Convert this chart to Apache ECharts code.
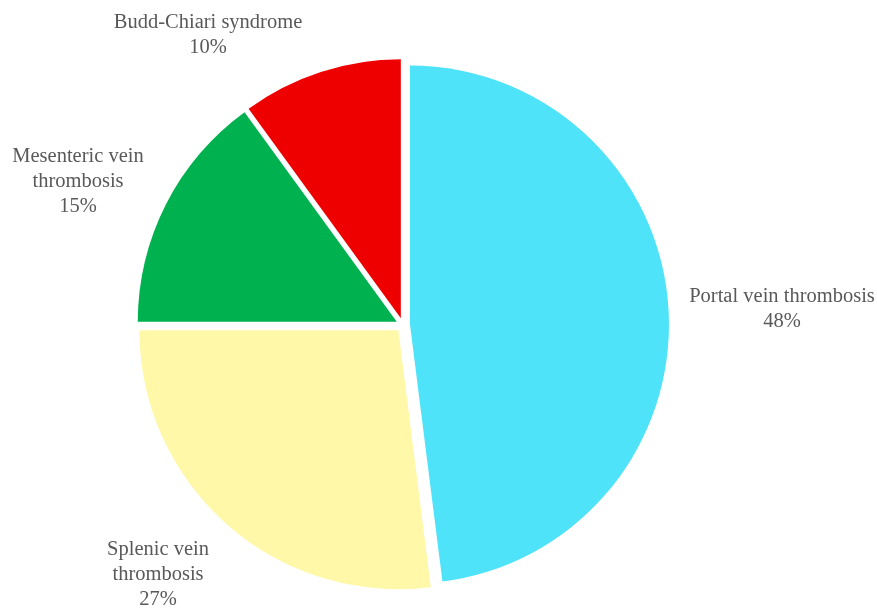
<!DOCTYPE html>
<html>
<head>
<meta charset="utf-8">
<script src="https://cdn.jsdelivr.net/npm/echarts@6/dist/echarts.min.js"></script>
<style>html,body{margin:0;padding:0;background:#fff}#c{width:877px;height:608px}</style>
</head>
<body>
<div id="c"></div>
<script>
const categories = ['Portal vein thrombosis', 'Splenic vein thrombosis', 'Mesenteric vein thrombosis', 'Budd-Chiari syndrome'];
const labelNames = ['Portal vein thrombosis', 'Splenic vein\nthrombosis', 'Mesenteric vein\nthrombosis', 'Budd-Chiari syndrome'];
const values = [48, 27, 15, 10];
const colors = ['#4FE3FA', '#FFF8A8', '#00B14F', '#EE0000'];
const labelPos = [[782, 309], [158, 575], [78, 182], [208, 35]];

const chart = echarts.init(document.getElementById('c'), null, {renderer: 'canvas'});
const data = categories.map((c, i) => ({
  name: c,
  value: values[i],
  selected: true,
  itemStyle: {color: colors[i]},
  select: {itemStyle: {color: colors[i], borderWidth: 0}}
}));
const labelFont = {
  fontFamily: '"Liberation Serif", "DejaVu Serif", serif',
  fontSize: 20.5,
  lineHeight: 25,
  fill: '#595959',
  textAlign: 'center',
  textVerticalAlign: 'middle',
  align: 'center',
  verticalAlign: 'middle'
};
chart.setOption({
  animation: false,
  series: [{
    type: 'pie',
    center: [403, 325],
    radius: 259,
    startAngle: 90,
    clockwise: true,
    selectedMode: 'multiple',
    selectedOffset: 7,
    data: data,
    itemStyle: {borderWidth: 0},
    emphasis: {disabled: true},
    label: {show: false},
    labelLine: {show: false}
  }],
  graphic: labelNames.map((n, i) => ({
    type: 'text',
    x: labelPos[i][0],
    y: labelPos[i][1],
    style: Object.assign({text: n + '\n' + values[i] + '%'}, labelFont)
  }))
});
</script>
</body>
</html>
